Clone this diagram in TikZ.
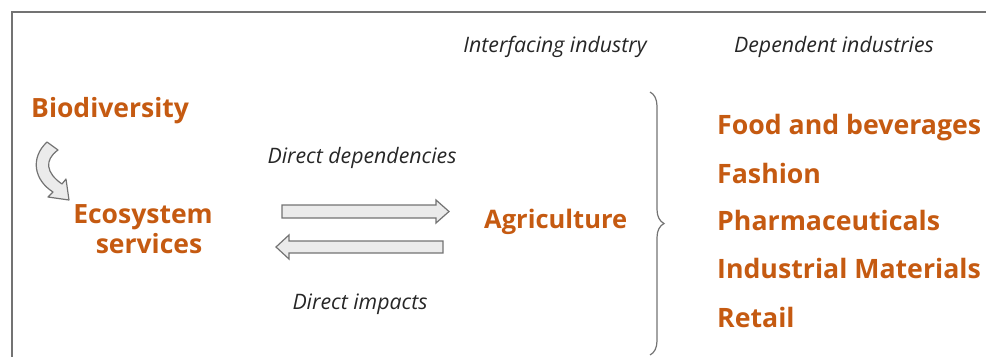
\documentclass[tikz,border=0pt]{standalone}
\usepackage{fontspec}
\setmainfont{Open Sans}
\usetikzlibrary{decorations.pathreplacing}
\definecolor{rust}{HTML}{C55A11}
\begin{document}
\begin{tikzpicture}[x=1pt,y=-1pt,
        big/.style={font=\bfseries\fontsize{26.5}{30}\selectfont,text=rust,inner sep=0pt},
        list/.style={font=\bfseries\fontsize{26.7}{30}\selectfont,text=rust,inner sep=0pt,anchor=base west},
        note/.style={font=\itshape\fontsize{21.3}{24}\selectfont,text=black!85,inner sep=0pt,anchor=base},
        blockarrow/.style={draw=black!55,fill=black!8,line width=1.2pt,line join=miter}]
        \useasboundingbox (0,0) rectangle (986,357);
        \draw[black!55,line width=1.5pt](986,12)--(12,12)--(12,357);

        \node[note](inter) at (555,52){Interfacing industry};
        \node[note](depend) at (834,52){Dependent industries};

        \node[big,anchor=base west](bio) at (31,117){Biodiversity};
        \node[big,anchor=base,align=center](eco) at (143,253){Ecosystem\\\hspace*{12pt}services};
        \node[big,anchor=base west,font=\bfseries\fontsize{25.5}{30}\selectfont](agri) at (484,228){Agriculture};

        % curved arrow from biodiversity to ecosystem services
        \draw[blockarrow,line join=round]
            (47,142) .. controls (30,158) and (34,180) .. (53,192) -- (48,197) -- (69,200)
            -- (66,179) -- (62,184) .. controls (46,173) and (44,160) .. (58,150) -- cycle;

        % block arrows
        \draw[blockarrow](282,205)--(436,205)--(436,200)--(449,211.5)--(436,223)--(436,218)--(282,218)--cycle;
        \draw[blockarrow](443,241)--(289,241)--(289,235)--(276,247)--(289,259)--(289,253)--(443,253)--cycle;
        \node[note](dep) at (362,163){Direct dependencies};
        \node[note](imp) at (360,309){Direct impacts};

        \draw[black!55,line width=1.2pt,decorate,decoration={brace,amplitude=14pt}](650,92)--(650,355);

        \foreach \name/\txt/\y in {food/Food and beverages/134,fashion/Fashion/183,
                pharma/Pharmaceuticals/230,indus/Industrial Materials/278,retail/Retail/327}
            \node[list](\name) at (717,\y){\txt};
    \end{tikzpicture}
\end{document}
